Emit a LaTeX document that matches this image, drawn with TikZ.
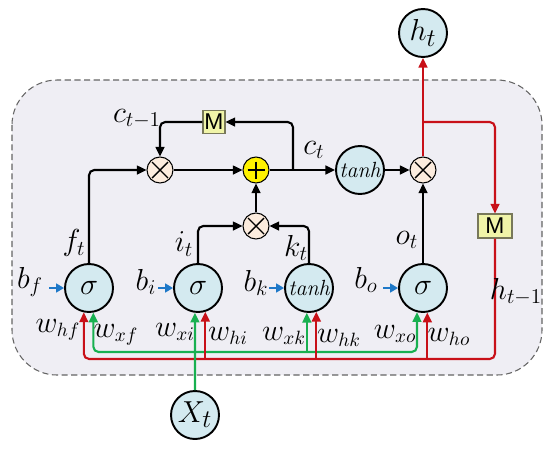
\documentclass[tikz,border=0pt]{standalone}
\usepackage{fontspec}
\newfontfamily\sansf{Liberation Sans}
\usetikzlibrary{arrows.meta}
\definecolor{bgfill}{RGB}{239,238,244}
\definecolor{gatefill}{RGB}{212,234,240}
\definecolor{opfill}{RGB}{252,236,222}
\definecolor{mfill}{RGB}{240,244,168}
\definecolor{mdraw}{RGB}{120,120,90}
\definecolor{redl}{RGB}{200,16,24}
\definecolor{greenl}{RGB}{24,176,80}
\definecolor{bluel}{RGB}{30,120,200}
\definecolor{dashc}{RGB}{100,100,100}
\begin{document}
\begin{tikzpicture}[x=0.02cm,y=-0.02cm,
  lab/.style={font=\fontsize{18}{20}\selectfont, inner sep=0pt},
  wlab/.style={font=\fontsize{16}{18}\selectfont, inner sep=0pt},
  gate/.style={circle,draw,line width=1.1pt,fill=gatefill,minimum size=0.96cm,inner sep=0pt,font=\fontsize{19}{20}\selectfont},
  tgate/.style={gate,font=\fontsize{12.5}{14}\selectfont\itshape},
  mulop/.style={circle,draw,line width=0.6pt,fill=opfill,minimum size=0.52cm,inner sep=0pt,
    path picture={\draw[line width=0.8pt]
      ([shift={(-0.16cm,-0.16cm)}]path picture bounding box.center) -- ([shift={(0.16cm,0.16cm)}]path picture bounding box.center)
      ([shift={(-0.16cm,0.16cm)}]path picture bounding box.center) -- ([shift={(0.16cm,-0.16cm)}]path picture bounding box.center);}},
  addop/.style={circle,draw,line width=0.6pt,fill=yellow,minimum size=0.52cm,inner sep=0pt,
    path picture={\draw[line width=0.8pt]
      ([shift={(-0.17cm,0cm)}]path picture bounding box.center) -- ([shift={(0.17cm,0cm)}]path picture bounding box.center)
      ([shift={(0cm,0.17cm)}]path picture bounding box.center) -- ([shift={(0cm,-0.17cm)}]path picture bounding box.center);}},
  mbox/.style={draw=mdraw,line width=0.6pt,fill=mfill,inner sep=0pt,font=\sansf\fontsize{13}{14}\selectfont},
  arr/.style={-{Triangle[length=5.5pt,width=5pt]},line width=1.2pt,black},
  redarr/.style={-{Triangle[length=5.5pt,width=5pt]},line width=1.2pt,redl},
  greenarr/.style={-{Triangle[length=5.5pt,width=5pt]},line width=1.2pt,greenl},
  bluearr/.style={-{Triangle[length=4.5pt,width=5pt]},line width=1.6pt,bluel},
  rc/.style={rounded corners=3pt}
]
\useasboundingbox (0,0) rectangle (550,450);
% background box
\draw[dashc,dashed,dash pattern=on 3.5pt off 2pt,line width=0.6pt,fill=bgfill,rounded corners=0.9cm] (12,80) rectangle (542,375);

% nodes
\node[gate] (ht) at (423,33) {$h_t$};
\node[gate] (xt) at (195,415) {$X_t$};
\node[gate] (sf) at (89,288) {$\sigma$};
\node[gate] (si) at (198,288) {$\sigma$};
\node[tgate] (tk) at (309,288) {tanh};
\node[gate] (so) at (423,288) {$\sigma$};
\node[tgate] (tc) at (360,170) {tanh};
\node[mulop] (mf) at (160,170) {};
\node[addop] (pl) at (256,170) {};
\node[mulop] (mik) at (256,226) {};
\node[mulop] (mo) at (423,170) {};
\node[mbox,minimum width=0.44cm,minimum height=0.47cm] (mtop) at (214,122) {M};
\node[mbox,minimum width=0.68cm,minimum height=0.48cm] (mright) at (495,226) {M};

\coordinate (ct) at (293,170);
\coordinate (rb) at (423,122);
\coordinate (rbase) at (0,359);
\coordinate (gbase) at (0,352);

% black connectors
\draw[arr,rc] (sf.north) |- (mf.west);
\draw[arr] (mf) -- (pl);
\draw[arr,rc] (mtop.west) -| (mf.north);
\draw[arr,rc] (ct) |- (mtop.east);
\draw[arr] (pl) -- (tc);
\draw[arr] (tc) -- (mo);
\draw[arr,rc] (si.north) |- (mik.west);
\draw[arr,rc] (tk.north) |- (mik.east);
\draw[arr] (mik) -- (pl);
\draw[arr] (so) -- (mo);

% green horizontal
\draw[greenarr,rc,{Triangle[length=5.5pt,width=5pt]}-{Triangle[length=5.5pt,width=5pt]}] (sf.-80) |- (so.-104 |- gbase) -- (so.-104);
\draw[greenarr] (tk.-95 |- gbase) -- (tk.-95);

% red
\draw[redarr] (mo) -- (ht);
\draw[redarr,rc] (rb) -| (mright.north);
\draw[redarr,rc] (mright.south) |- (sf.-102 |- rbase) -- (sf.-102);
\draw[redarr] (si.-73 |- rbase) -- (si.-73);
\draw[redarr] (tk.-73 |- rbase) -- (tk.-73);
\draw[redarr] (so.-80 |- rbase) -- (so.-80);

% green from X_t
\draw[greenarr] (xt) -- (si.-97);

% blue bias arrows
\draw[bluearr] ([xshift=-0.3cm]sf.west) -- (sf.west);
\draw[bluearr] ([xshift=-0.3cm]si.west) -- (si.west);
\draw[bluearr] ([xshift=-0.3cm]tk.west) -- (tk.west);
\draw[bluearr] ([xshift=-0.3cm]so.west) -- (so.west);

% labels
\node[lab] (lct1) at (137,119) {$c_{t-1}$};
\node[lab] (lct) at (314,150) {$c_t$};
\node[lab] (lft) at (74,243) {$f_t$};
\node[lab] (lit) at (184,244) {$i_t$};
\node[lab] (lkt) at (296,248) {$k_t$};
\node[lab] (lot) at (407,240) {$o_t$};
\node[lab] (lbf) at (30,282) {$b_f$};
\node[lab] (lbi) at (146,282) {$b_i$};
\node[lab] (lbk) at (256,283) {$b_k$};
\node[lab] (lbo) at (366,280) {$b_o$};
\node[lab] (lht1) at (516,292) {$h_{t-1}$};
\node[wlab] (lwhf) at (58,330) {$w_{hf}$};
\node[wlab] (lwxf) at (116,335) {$w_{xf}$};
\node[wlab] (lwxi) at (175,332) {$w_{xi}$};
\node[wlab] (lwhi) at (228,336) {$w_{hi}$};
\node[wlab] (lwxk) at (284,336) {$w_{xk}$};
\node[wlab] (lwhk) at (339,338) {$w_{hk}$};
\node[wlab] (lwxo) at (395,334) {$w_{xo}$};
\node[wlab] (lwho) at (449,337) {$w_{ho}$};
\end{tikzpicture}
\end{document}
